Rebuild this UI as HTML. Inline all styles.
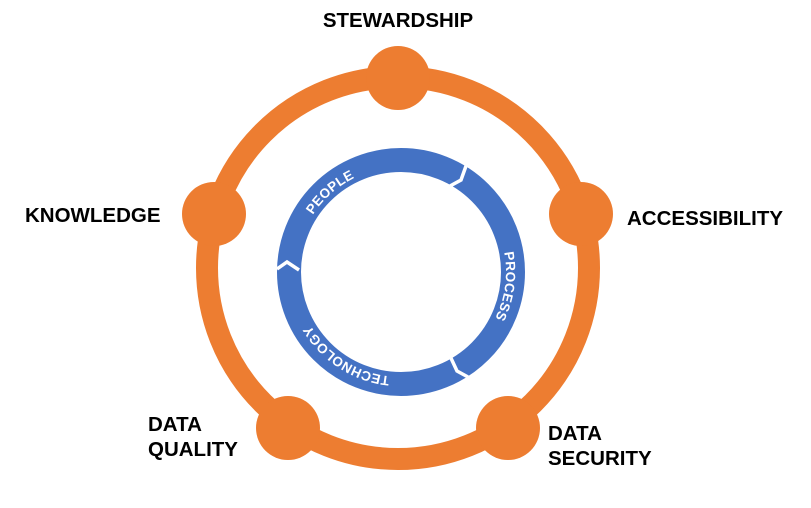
<!DOCTYPE html>
<html><head><meta charset="utf-8"><style>
html,body{margin:0;padding:0;background:#fff;}
svg{display:block;}
text{font-family:"Liberation Sans",Arial,sans-serif;}
</style></head><body>
<svg width="811" height="508" viewBox="0 0 811 508" xmlns="http://www.w3.org/2000/svg">
<circle cx="398" cy="268" r="191" fill="none" stroke="#ED7D31" stroke-width="22"/>
<g fill="#ED7D31">
<circle cx="398" cy="78" r="32"/>
<circle cx="214" cy="214" r="32"/>
<circle cx="581" cy="214" r="32"/>
<circle cx="288" cy="428" r="32"/>
<circle cx="508" cy="428" r="32"/>
</g>
<circle cx="401" cy="272" r="112" fill="none" stroke="#4472C4" stroke-width="24"/>
<g fill="none" stroke="#fff" stroke-width="3.5">
<polyline points="450,186 461,180 466,166"/>
<polyline points="277,269 287,262 299,270"/>
<polyline points="468,377 457,371 450,356"/>
</g>
<defs>
<path id="c" d="M401,167 A105,105 0 1,1 400.99,167 Z"/>
</defs>
<g fill="#fff" font-size="13.5" font-weight="bold" letter-spacing="0.3">
<text><textPath href="#c" startOffset="583" text-anchor="middle">PEOPLE</textPath></text>
<text><textPath href="#c" startOffset="179" text-anchor="middle">PROCESS</textPath></text>
<text><textPath href="#c" startOffset="390" text-anchor="middle">TECHNOLOGY</textPath></text>
</g>
<g fill="#000" font-size="20.5" font-weight="bold">
<text x="398" y="27" text-anchor="middle">STEWARDSHIP</text>
<text x="25" y="222">KNOWLEDGE</text>
<text x="627" y="225">ACCESSIBILITY</text>
<text x="148" y="431">DATA</text>
<text x="148" y="456">QUALITY</text>
<text x="548" y="440">DATA</text>
<text x="548" y="465">SECURITY</text>
</g>
</svg>
</body></html>
